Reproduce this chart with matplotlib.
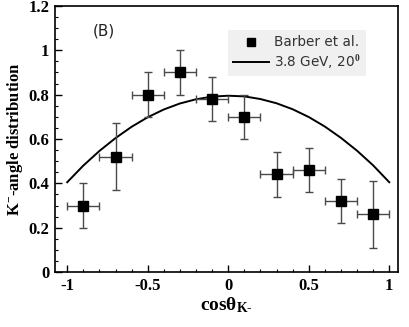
import matplotlib
matplotlib.use("Agg")
import matplotlib.pyplot as plt
from matplotlib.lines import Line2D
from matplotlib.ticker import MultipleLocator

# Barber et al. data
cos_theta = [-0.9, -0.7, -0.5, -0.3, -0.1, 0.1, 0.3, 0.5, 0.7, 0.9]
dist = [0.30, 0.52, 0.80, 0.90, 0.78, 0.70, 0.44, 0.46, 0.32, 0.26]
dist_err = [0.10, 0.15, 0.10, 0.10, 0.10, 0.10, 0.10, 0.10, 0.10, 0.15]
cos_err = [0.10] * 10

# model curve, 3.8 GeV, 20 deg
curve_x = [-1.0, -0.9, -0.8, -0.7, -0.6, -0.5, -0.4, -0.3, -0.2, -0.1, 0.0,
           0.1, 0.2, 0.3, 0.4, 0.5, 0.6, 0.7, 0.8, 0.9, 1.0]
curve_y = [0.405, 0.480, 0.546, 0.604, 0.655, 0.698, 0.733, 0.760, 0.779, 0.791, 0.795,
           0.792, 0.780, 0.761, 0.734, 0.699, 0.656, 0.605, 0.547, 0.481, 0.405]

plt.rcParams['mathtext.fontset'] = 'custom'
plt.rcParams['mathtext.rm'] = 'Liberation Serif:bold'
plt.rcParams['mathtext.it'] = 'Liberation Serif:bold'
plt.rcParams['mathtext.bf'] = 'Liberation Serif:bold'

fig = plt.figure(figsize=(4.09, 3.27), dpi=100)
ax = fig.add_axes([0.134, 0.168, 0.839, 0.814])

ax.plot(curve_x, curve_y, color='black', lw=1.4, zorder=2)
ax.errorbar(cos_theta, dist, yerr=dist_err, xerr=cos_err, fmt='s', color='black',
            ms=6.5, ecolor='#4a4a4a', elinewidth=1.0, capsize=3, capthick=1.0, zorder=3)

ax.set_xlim(-1.077, 1.054)
ax.set_ylim(0, 1.2)
ax.xaxis.set_minor_locator(MultipleLocator(0.1))
ax.yaxis.set_minor_locator(MultipleLocator(0.05))
ax.set_xticks([-1, -0.5, 0, 0.5, 1])
ax.set_xticklabels(['-1', '-0.5', '0', '0.5', '1'])
ax.set_yticks([0, 0.2, 0.4, 0.6, 0.8, 1.0, 1.2])
ax.set_yticklabels(['0', '0.2', '0.4', '0.6', '0.8', '1', '1.2'])
ax.tick_params(which='both', direction='in')
ax.tick_params(which='major', length=5, width=1, pad=4)
ax.tick_params(which='minor', length=2.5, width=0.8)
for lab in ax.get_xticklabels() + ax.get_yticklabels():
    lab.set_fontfamily('Liberation Serif')
    lab.set_fontweight('bold')
    lab.set_fontsize(12)
for s in ax.spines.values():
    s.set_linewidth(1.2)

ax.set_xlabel(r'cos$\theta_{\mathrm{K}\text{-}}$', fontsize=14, fontfamily='Liberation Serif',
              fontweight='bold', labelpad=1)
ax.set_ylabel('K$^{-}$-angle distribution', fontsize=12, fontfamily='Liberation Serif',
              fontweight='bold', labelpad=2)

ax.text(-0.84, 1.065, '(B)', fontsize=11, fontfamily='DejaVu Sans', color='#222222')

handles = [Line2D([], [], ls='none', marker='s', color='black', ms=6),
           Line2D([], [], color='black', lw=1.4)]
labels = ['Barber et al.', '3.8 GeV, 20$^{0}$']
leg = ax.legend(handles, labels, loc='upper right', bbox_to_anchor=(0.927, 0.935),
                frameon=True, fancybox=False, fontsize=9.8, handlelength=2.6,
                handletextpad=0.4, labelspacing=0.25, labelcolor='#333333',
                borderpad=0.4)
leg.get_frame().set_facecolor('#f0f0f0')
leg.get_frame().set_edgecolor('none')
leg.get_frame().set_alpha(1)

fig.savefig('out.png', dpi=100)
